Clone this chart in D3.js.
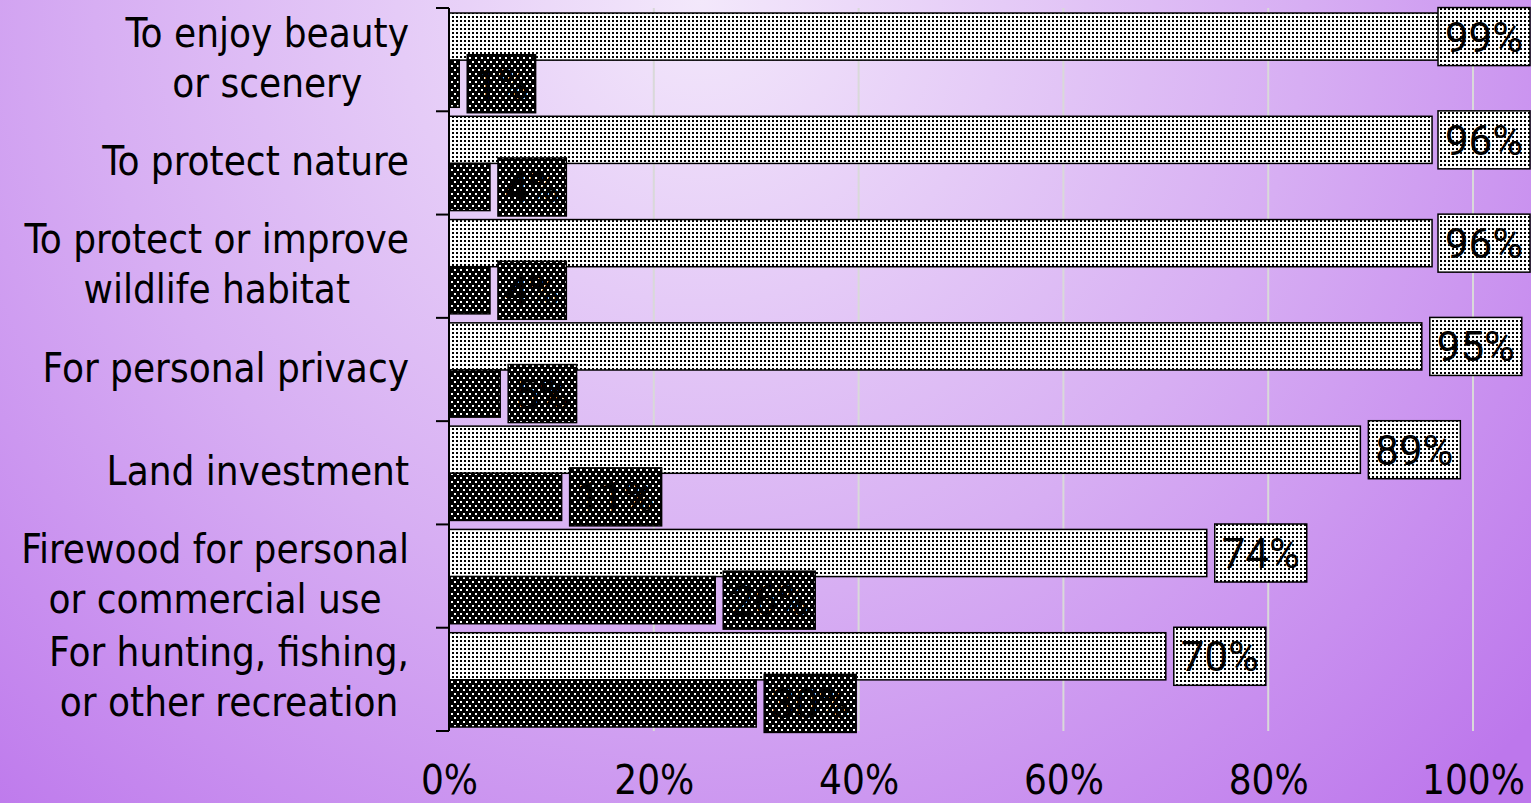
<!DOCTYPE html>
<html>
<head>
<meta charset="utf-8">
<script src="https://cdn.jsdelivr.net/npm/d3@7"></script>
<style>
  html, body { margin: 0; padding: 0; overflow: hidden; }
  svg text { font-family: "DejaVu Sans Condensed", "DejaVu Sans", sans-serif; font-stretch: condensed; }
  svg text.val { font-family: Roboto, "DejaVu Sans", sans-serif; font-stretch: normal; }
</style>
</head>
<body>
<div id="chart"></div>
<script>
const categories = [
  ['To enjoy beauty', 'or scenery'],
  ['To protect nature'],
  ['To protect or improve', 'wildlife habitat'],
  ['For personal privacy'],
  ['Land investment'],
  ['Firewood for personal', 'or commercial use'],
  ['For hunting, fishing,', 'or other recreation']
]
const yesValues = [99, 96, 96, 95, 89, 74, 70]
const noValues = [1, 4, 4, 5, 11, 26, 30]
const xTicks = [0, 20, 40, 60, 80, 100]

const W = 1531, H = 803
const svg = d3.select('#chart').append('svg')
  .attr('width', W)
  .attr('height', H)

const defs = svg.append('defs')
const bg = defs.append('radialGradient').attr('id', 'bg')
  .attr('gradientUnits', 'userSpaceOnUse')
  .attr('cx', 700).attr('cy', 0).attr('r', 1100)
bg.append('stop').attr('offset', 0).attr('stop-color', '#f3e8fb')
bg.append('stop').attr('offset', 0.55).attr('stop-color', '#d7aef3')
bg.append('stop').attr('offset', 1).attr('stop-color', '#bd77ec')

const light = defs.append('pattern').attr('id', 'light')
  .attr('patternUnits', 'userSpaceOnUse').attr('width', 4).attr('height', 4)
light.append('rect').attr('width', 4).attr('height', 4).attr('fill', '#fff')
light.append('rect').attr('width', 2).attr('height', 2).attr('fill', '#000')

const dark = defs.append('pattern').attr('id', 'dark')
  .attr('patternUnits', 'userSpaceOnUse').attr('width', 6).attr('height', 8)
dark.append('rect').attr('width', 6).attr('height', 8).attr('fill', '#000')
dark.append('rect').attr('x', 1).attr('y', 1).attr('width', 2).attr('height', 2).attr('fill', '#fff')
dark.append('rect').attr('x', 4).attr('y', 5).attr('width', 2).attr('height', 2).attr('fill', '#fff')

svg.append('rect').attr('width', W).attr('height', H).attr('fill', 'url(#bg)')

const x = d3.scaleLinear().domain([0, 100]).range([449, 1473])
const y = d3.scaleBand().domain(d3.range(categories.length)).range([8, 731])
const sub = d3.scaleBand().domain(['yes', 'no']).range([5, y.bandwidth() - 4])

// gridlines
svg.append('g').selectAll('line')
  .data(xTicks.slice(1))
  .enter().append('line')
  .attr('x1', d => x(d)).attr('x2', d => x(d))
  .attr('y1', 8).attr('y2', 731)
  .attr('stroke', '#d9d9d9').attr('stroke-width', 2)

const rows = categories.map((c, i) => ({ i: i, yes: yesValues[i], no: noValues[i] }))

const bars = svg.append('g')
bars.selectAll('.yes').data(rows).enter().append('rect')
  .attr('x', x(0)).attr('y', d => y(d.i) + sub('yes'))
  .attr('width', d => x(d.yes) - x(0)).attr('height', sub.bandwidth())
  .attr('fill', 'url(#light)').attr('stroke', '#000').attr('stroke-width', 1.5)
bars.selectAll('.no').data(rows).enter().append('rect')
  .attr('x', x(0)).attr('y', d => y(d.i) + sub('no'))
  .attr('width', d => x(d.no) - x(0)).attr('height', sub.bandwidth())
  .attr('fill', 'url(#dark)').attr('stroke', '#000').attr('stroke-width', 1.5)

// value label boxes
function addLabel(v, i, key) {
  const g = svg.append('g')
  const t = g.append('text').attr('class', 'val').text(v + '%')
    .attr('font-size', 42).attr('text-anchor', 'middle').attr('fill', '#000')
  const tw = t.node().getComputedTextLength()
  const bw = tw + 14, bh = 58
  let bx = x(v) + 8
  if (bx + bw > W - 1) bx = W - 1 - bw
  const cy = y(i) + sub(key) + sub.bandwidth() / 2
  g.insert('rect', 'text')
    .attr('x', bx).attr('y', cy - bh / 2).attr('width', bw).attr('height', bh)
    .attr('fill', key === 'yes' ? 'url(#light)' : 'url(#dark)')
    .attr('stroke', '#000').attr('stroke-width', 1.5)
  t.attr('x', bx + bw / 2).attr('y', cy + 15)
}
rows.forEach(d => { addLabel(d.yes, d.i, 'yes'); addLabel(d.no, d.i, 'no') })

// category axis
const ax = svg.append('g').attr('stroke', '#000').attr('stroke-width', 2)
ax.append('line').attr('x1', x(0)).attr('x2', x(0)).attr('y1', 8).attr('y2', 731)
ax.selectAll('.tk').data(d3.range(categories.length + 1)).enter().append('line')
  .attr('x1', x(0) - 13).attr('x2', x(0))
  .attr('y1', d => 8 + d * y.step()).attr('y2', d => 8 + d * y.step())

const labels = svg.append('g')
categories.forEach((lines, i) => {
  const g = labels.append('g')
  const cy = y(i) + y.bandwidth() / 2
  const ts = lines.map((l, k) => g.append('text').text(l)
    .attr('font-size', 40).attr('text-anchor', 'middle').attr('fill', '#000')
    .attr('y', cy + 12 + (k - (lines.length - 1) / 2) * 50))
  const maxW = d3.max(ts, t => t.node().getComputedTextLength())
  ts.forEach(t => t.attr('x', 409 - maxW / 2))
})

// value axis
const xAxis = svg.append('g').attr('transform', 'translate(0,794)')
  .call(d3.axisBottom(x).tickValues(xTicks).tickSize(0).tickFormat(d => d + '%'))
xAxis.select('.domain').remove()
xAxis.selectAll('text').attr('y', 0).attr('dy', 0)
  .attr('font-size', 40).attr('fill', '#000')
</script>
</body>
</html>
